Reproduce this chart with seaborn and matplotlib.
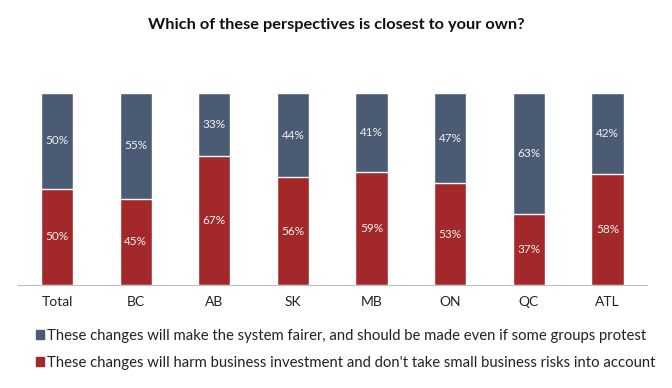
import matplotlib
matplotlib.use("Agg")
import matplotlib.pyplot as plt
import seaborn as sns
import pandas as pd
from matplotlib.patches import Patch

categories = ["Total", "BC", "AB", "SK", "MB", "ON", "QC", "ATL"]
fairer = [50, 55, 33, 44, 41, 47, 63, 42]
harm = [50, 45, 67, 56, 59, 53, 37, 58]
series_labels = [
    "These changes will make the system fairer, and should be made even if some groups protest",
    "These changes will harm business investment and don't take small business risks into account",
]
title = "Which of these perspectives is closest to your own?"

sns.set_theme(style="white")
plt.rcParams["font.family"] = ["Lato", "DejaVu Sans"]

blue = "#4B5B73"
red = "#A3282A"

df = pd.DataFrame({"cat": categories, "fairer": fairer, "harm": harm})
df["total"] = df["fairer"] + df["harm"]

fig = plt.figure(figsize=(6.72, 3.88), dpi=100)
ax = fig.add_axes([17.7 / 672, (388 - 285) / 388, 629 / 672, 192 / 388])

sns.barplot(data=df, x="cat", y="total", color=blue, saturation=1, width=0.41, ax=ax)
sns.barplot(data=df, x="cat", y="harm", color=red, saturation=1, width=0.41, ax=ax)

for i, (f, h) in enumerate(zip(fairer, harm)):
    ax.text(i, h / 2, f"{h}%", ha="center", va="center", color="#F2F2F2", fontsize=8.5)
    ax.text(i, h + f / 2, f"{f}%", ha="center", va="center", color="#F2F2F2", fontsize=8.5)

ax.set_xlim(-0.5, 7.5)
ax.set_ylim(0, 100)
ax.set_xlabel("")
ax.set_ylabel("")
ax.set_yticks([])
ax.tick_params(axis="x", length=0, labelsize=10, colors="#222222", pad=8)
for s in ["top", "left", "right"]:
    ax.spines[s].set_visible(False)
ax.spines["bottom"].set_color("#BFBFBF")
ax.spines["bottom"].set_linewidth(0.8)

fig.text(0.5, 1 - 25 / 388, title, ha="center", va="center", fontsize=11.8, fontweight="bold", color="#111111")

handles = [Patch(facecolor=blue, edgecolor=blue), Patch(facecolor=red, edgecolor=red)]
fig.legend(handles, series_labels, loc="upper left", bbox_to_anchor=(36 / 672, 1 - 329 / 388),
           frameon=False, fontsize=10.7, labelcolor="#222222", handlelength=0.55, handleheight=0.6,
           handletextpad=0.2, labelspacing=0.85, borderaxespad=0, borderpad=0)

fig.savefig("out.png", dpi=100)
